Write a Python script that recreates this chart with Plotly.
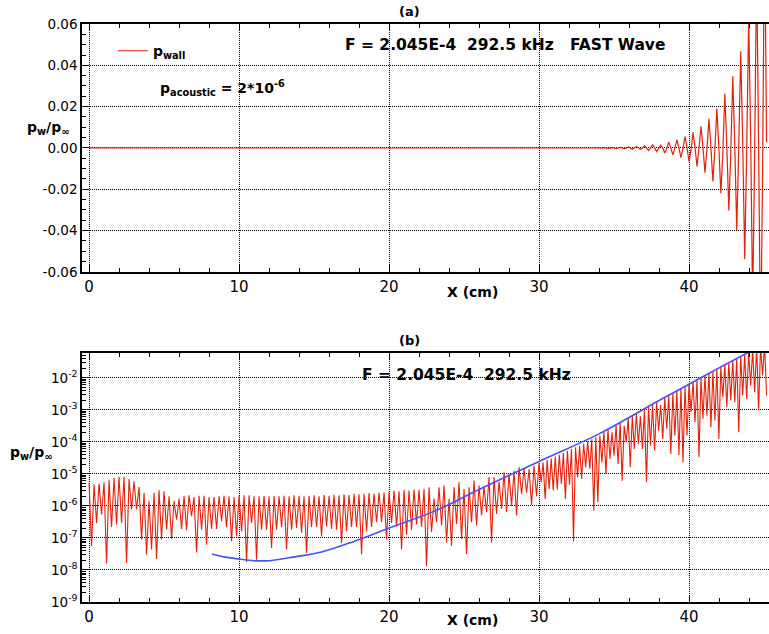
import numpy as np
import plotly.graph_objects as go

# ---------------- data ----------------
# |p_wall| samples, stored as log10 values, in pairs (local peak, following dip)
# each segment covers [x_start, x_end) in cm
seg_x_start = [0.0, 10.0, 20.0, 30.0, 40.0]
seg_x_end = [10.0, 20.0, 30.0, 40.0, 45.3]

peaks_log_1 = [-5.28, -5.33, -5.31, -5.26, -5.18, -5.13, -5.09, -5.09, -5.16, -5.23,
               -5.41, -5.59, -5.85, -5.59, -5.51, -5.54, -5.70, -5.85, -5.78, -5.68,
               -5.67, -5.72, -5.68, -5.68, -5.72, -5.72, -5.70, -5.68, -5.70, -5.72]
dips_log_1 = [-7.26, -6.53, -6.27, -7.80, -6.66, -6.58, -6.53, -7.78, -6.11, -6.11,
              -7.05, -7.52, -7.36, -7.66, -7.05, -6.74, -7.03, -6.43, -6.72, -6.76,
              -6.32, -7.45, -6.74, -7.21, -6.72, -6.72, -6.48, -6.66, -7.10, -6.95]

peaks_log_2 = [-5.67, -5.67, -5.67, -5.70, -5.70, -5.68, -5.70, -5.69, -5.70, -5.68,
               -5.70, -5.67, -5.68, -5.70, -5.68, -5.67, -5.70, -5.66, -5.68, -5.65,
               -5.67, -5.64, -5.66, -5.62, -5.64, -5.62, -5.60, -5.62, -5.59, -5.58]
dips_log_2 = [-6.80, -7.75, -6.53, -7.68, -6.74, -6.74, -7.31, -6.74, -6.66, -7.36,
              -6.74, -6.69, -6.84, -7.47, -6.66, -6.66, -6.95, -6.64, -6.72, -6.74,
              -7.16, -6.79, -6.66, -6.66, -7.52, -6.79, -6.66, -6.51, -6.51, -7.05]

peaks_log_3 = [-5.55, -5.52, -5.54, -5.50, -5.52, -5.49, -5.50, -5.47, -5.42, -5.78,
               -5.42, -5.36, -5.78, -5.42, -5.26, -5.47, -5.42, -5.21, -5.36, -5.39,
               -5.10, -5.10, -5.24, -4.95, -5.00, -4.90, -4.79, -4.84, -4.86, -4.75]
dips_log_3 = [-6.53, -6.64, -7.36, -6.90, -6.74, -6.58, -6.66, -7.88, -6.82, -6.51,
              -6.61, -7.14, -7.24, -6.56, -7.03, -7.50, -6.51, -6.61, -6.30, -6.20,
              -7.14, -6.25, -6.09, -6.20, -5.99, -6.30, -5.63, -5.59, -5.97, -5.70]

peaks_log_4 = [-4.66, -4.64, -4.57, -4.52, -4.46, -4.40, -4.35, -4.28, -4.22, -4.17,
               -4.12, -4.06, -3.98, -3.92, -3.86, -3.80, -3.68, -3.62, -3.70, -3.48,
               -3.40, -3.50, -3.26, -3.19, -3.12, -3.20, -2.98, -2.90, -2.83, -2.76,
               -2.85, -2.62, -2.55, -2.48, -2.41, -2.33, -2.26]
dips_log_4 = [-5.26, -5.78, -5.47, -5.52, -5.49, -5.31, -5.78, -5.34, -7.11, -5.10,
              -5.16, -4.79, -4.84, -6.14, -5.88, -4.64, -5.00, -4.53, -4.43, -4.69,
              -5.21, -4.01, -4.79, -4.22, -4.06, -4.22, -5.26, -4.11, -4.27, -3.65,
              -3.91, -3.59, -4.38, -3.80, -4.41, -4.64, -3.80]

peaks_log_5 = [-2.18, -2.12, -2.05, -1.98, -1.92, -1.85, -1.79, -1.72, -1.66, -1.58,
               -1.52, -1.46, -1.40, -1.33, -1.27, -1.20, -1.12, -1.05, -1.00, -0.95]
dips_log_5 = [-3.07, -3.39, -4.48, -3.28, -3.18, -3.54, -3.33, -3.91, -2.60, -2.92,
              -2.71, -2.76, -3.70, -2.55, -2.66, -2.24, -2.45, -3.02, -1.93, -2.55]

peaks_log = [peaks_log_1, peaks_log_2, peaks_log_3, peaks_log_4, peaks_log_5]
dips_log = [dips_log_1, dips_log_2, dips_log_3, dips_log_4, dips_log_5]

# growth envelope (blue line), log10 values
blue_x = [8.2, 9.0, 10.0, 11.0, 12.0, 13.3, 15.5, 17.7, 20.0, 23.0, 26.0,
          30.0, 34.0, 38.0, 40.0, 42.0, 43.9]
blue_log = [-7.50, -7.59, -7.66, -7.71, -7.71, -7.62, -7.44, -7.10, -6.69, -6.17,
            -5.49, -4.61, -3.75, -2.71, -2.20, -1.69, -1.22]

x_major = [0, 10, 20, 30, 40]
a_tickvals = [-0.06, -0.04, -0.02, 0.0, 0.02, 0.04, 0.06]
a_ticktext = ["-0.06", "-0.04", "-0.02", "0.00", "0.02", "0.04", "0.06"]
b_decades = [-9, -8, -7, -6, -5, -4, -3, -2]

# ---------------- build sample series ----------------
xs, mag, sign = [], [], []
k = 0
for x0, x1, pk, dp in zip(seg_x_start, seg_x_end, peaks_log, dips_log):
    n = len(pk)
    step = (x1 - x0) / n
    for i in range(n):
        s = 1.0 if k % 2 == 0 else -1.0
        xs.append(x0 + i * step)
        mag.append(10 ** pk[i])
        sign.append(s)
        xs.append(x0 + (i + 0.5) * step)
        mag.append(10 ** dp[i])
        sign.append(s)
        k += 1
xs = np.array(xs)
mag = np.array(mag)
signed = mag * np.array(sign)

RED = "rgb(232,32,10)"
BLUE = "rgb(64,84,255)"
FONT = "DejaVu Sans, Liberation Sans, Arial, sans-serif"
DOTS = "1px,1px"

fig = go.Figure()
fig.add_trace(go.Scatter(x=xs, y=signed, mode="lines", name="<b>p<sub>wall</sub></b>",
                         line=dict(color=RED, width=1.2), xaxis="x", yaxis="y",
                         showlegend=True))
fig.add_trace(go.Scatter(x=xs, y=mag, mode="lines", line=dict(color=RED, width=1.1),
                         xaxis="x2", yaxis="y2", showlegend=False))
fig.add_trace(go.Scatter(x=blue_x, y=[10 ** v for v in blue_log], mode="lines",
                         line=dict(color=BLUE, width=1.6, shape="spline", smoothing=1.0),
                         xaxis="x2", yaxis="y2", showlegend=False))

xcommon = dict(range=[-0.47, 45.33], tickvals=x_major, ticks="inside", ticklen=7,
               tickcolor="black", showline=True, linecolor="black", linewidth=1.5,
               mirror="ticks", showgrid=True, gridcolor="black", griddash=DOTS,
               gridwidth=1, zeroline=False,
               minor=dict(dtick=2, ticks="inside", ticklen=4, tickcolor="black",
                          showgrid=False),
               tickfont=dict(family=FONT, size=15, color="black"))
ycommon = dict(ticks="inside", ticklen=7, tickcolor="black", showline=True,
               linecolor="black", linewidth=1.5, mirror=False, showgrid=True,
               gridcolor="black", griddash=DOTS, gridwidth=1, zeroline=False,
               tickfont=dict(family=FONT, size=13.5, color="black"))

minor_b = [m * 10.0 ** d for d in range(-9, -1) for m in range(2, 10)]

fig.update_layout(
    width=769, height=634,
    margin=dict(l=82, r=0, t=24, b=32),
    plot_bgcolor="white", paper_bgcolor="white",
    xaxis=dict(domain=[0, 1], anchor="y", **xcommon),
    yaxis=dict(domain=[0.571, 1.0], anchor="x", range=[-0.06, 0.06],
               tickvals=a_tickvals, ticktext=a_ticktext,
               minor=dict(dtick=0.005, ticks="inside", ticklen=4, tickcolor="black",
                          showgrid=False),
               **ycommon),
    xaxis2=dict(domain=[0, 1], anchor="y2", **xcommon),
    yaxis2=dict(domain=[0.0, 0.431], anchor="x2", type="log",
                range=[-9, np.log10(0.06)],
                tickvals=[10.0 ** d for d in b_decades],
                ticktext=["10<sup>%d</sup>" % d for d in b_decades],
                minor=dict(tickvals=minor_b, ticks="inside", ticklen=4,
                           tickcolor="black", showgrid=False),
                **ycommon),
    legend=dict(x=0.045, y=0.953, xanchor="left", yanchor="middle",
                bgcolor="rgba(0,0,0,0)", itemwidth=30,
                font=dict(family=FONT, size=14, color="black")),
    font=dict(family=FONT, color="black"),
)

nb = "\u00a0"
ann_font = dict(family=FONT, size=15.5, color="black")
lab_font = dict(family=FONT, size=14, color="black")
annotations = [
    dict(x=0.4774, y=1.0208, text="<b>(a)</b>", font=dict(family=FONT, size=13, color="black")),
    dict(x=0.380, y=0.9637, xanchor="left",
         text="<b>F = 2.045E-4" + nb * 2 + "292.5 kHz" + nb * 3 + "FAST Wave</b>", font=ann_font),
    dict(x=0.110, y=0.889, xanchor="left",
         text="<b>p<sub>acoustic</sub> = 2*10<sup>-6</sup></b>", font=lab_font),
    dict(x=-0.0495, y=0.820, text="<b>p<sub>w</sub>/p<sub>\u221e</sub></b>", font=lab_font),
    dict(x=0.569, y=0.536, text="<b>X (cm)</b>", font=lab_font),
    dict(x=0.4774, y=0.453, text="<b>(b)</b>", font=dict(family=FONT, size=13, color="black")),
    dict(x=0.4047, y=0.3927, xanchor="left",
         text="<b>F = 2.045E-4" + nb * 2 + "292.5 kHz</b>", font=ann_font),
    dict(x=-0.0742, y=0.2578, text="<b>p<sub>w</sub>/p<sub>\u221e</sub></b>", font=lab_font),
    dict(x=0.569, y=-0.0311, text="<b>X (cm)</b>", font=lab_font),
]
for a in annotations:
    a.update(xref="paper", yref="paper", showarrow=False)
    a.setdefault("xanchor", "center")
    a.setdefault("yanchor", "middle")
fig.update_layout(annotations=annotations)

fig.write_html("out.html", config={"displayModeBar": False},
               post_script="document.body.style.margin='0px';"
                           "document.body.style.overflow='hidden';")
